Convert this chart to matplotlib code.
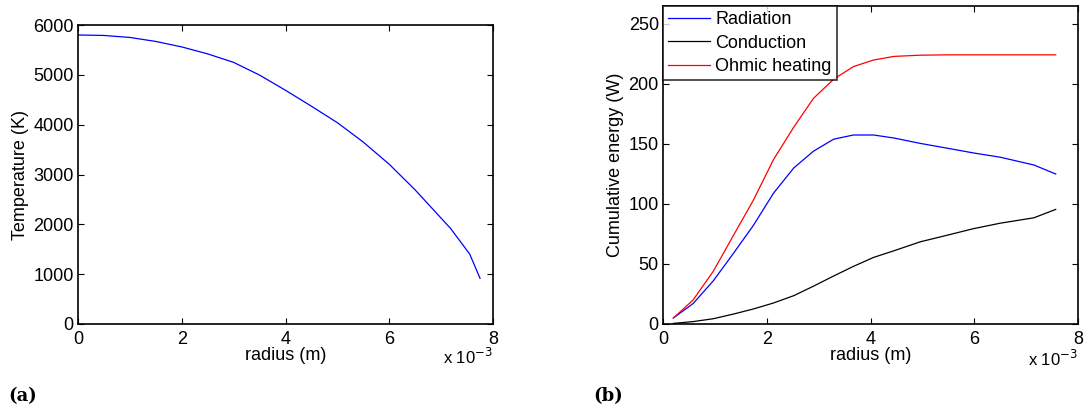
import matplotlib
matplotlib.use("Agg")
import matplotlib.pyplot as plt

# radius in units of 1e-3 m
r_temp = [0.0, 0.5, 1.0, 1.5, 2.0, 2.5, 3.0, 3.5, 4.0, 4.5, 5.0, 5.5,
          6.0, 6.5, 7.18, 7.55, 7.75]
temperature = [5800, 5790, 5750, 5670, 5560, 5420, 5250, 4995, 4690, 4370,
               4040, 3650, 3205, 2690, 1920, 1405, 917]

r_energy = [0.20, 0.58, 0.97, 1.36, 1.74, 2.13, 2.52, 2.90, 3.29, 3.67,
            4.06, 4.45, 4.96, 5.48, 5.99, 6.50, 7.15, 7.57]
radiation = [5, 17, 36, 59, 82, 109, 130, 144, 154, 157.5, 157.5, 155,
             150.5, 146.5, 142.5, 139, 132.5, 125]
conduction = [0.5, 2, 4.4, 8.3, 12.5, 17.5, 23.6, 31.5, 40, 48, 55.5, 61,
              68.5, 74, 79.5, 84, 88.5, 95.5]
ohmic = [5, 20, 44, 74, 103, 137, 164, 188, 204, 214.5, 220, 223, 224,
         224.3, 224.3, 224.3, 224.3, 224.3]

xticks = [0, 2, 4, 6, 8]

plt.rcParams["font.family"] = ["Liberation Sans", "DejaVu Sans"]
plt.rcParams["font.size"] = 13

W, H = 1085, 412
fig = plt.figure(figsize=(W / 100, H / 100), dpi=100)


def px_axes(x0, x1, y0, y1):
    return fig.add_axes([x0 / W, 1 - y1 / H, (x1 - x0) / W, (y1 - y0) / H])


def style(ax):
    ax.tick_params(direction="in", top=True, right=True, length=4,
                   width=0.8, labelsize=13)
    ax.tick_params(axis="x", pad=5)
    ax.tick_params(axis="y", pad=3)
    for s in ax.spines.values():
        s.set_linewidth(1.2)
    ax.set_xticks(xticks)
    ax.set_xlim(0, 8)


# ── (a) temperature ──────────────────────────────
ax1 = px_axes(78, 493, 25, 324)
ax1.plot(r_temp, temperature, color="#0000ff", linewidth=0.9)
ax1.set_ylim(0, 6000)
ax1.set_yticks(range(0, 6001, 1000))
ax1.set_xlabel("radius (m)", fontsize=13, labelpad=-1)
ax1.set_ylabel("Temperature (K)", fontsize=13, labelpad=3)
style(ax1)

# ── (b) cumulative energy ────────────────────────
ax2 = px_axes(663, 1078, 6, 324)
ax2.plot(r_energy, radiation, color="#0000ff", linewidth=0.9, label="Radiation")
ax2.plot(r_energy, conduction, color="black", linewidth=0.9, label="Conduction")
ax2.plot(r_energy, ohmic, color="#ff0000", linewidth=0.9, label="Ohmic heating")
ax2.set_ylim(0, 265)
ax2.set_yticks(range(0, 251, 50))
ax2.set_xlabel("radius (m)", fontsize=13, labelpad=-1)
ax2.set_ylabel("Cumulative energy (W)", fontsize=13, labelpad=3)
style(ax2)
leg = ax2.legend(loc="upper left", bbox_to_anchor=(0, 1), borderaxespad=0,
                 fontsize=13, frameon=True, fancybox=False, handlelength=2.3,
                 handletextpad=0.3, borderpad=0.3, labelspacing=0.35)
leg.get_frame().set_edgecolor("black")
leg.get_frame().set_linewidth(1.2)

# offset text and panel labels
for ax in (ax1, ax2):
    ax.text(1.0, -0.078, r"x 10$^{-3}$", transform=ax.transAxes,
            ha="right", va="top", fontsize=12)

fig.text(8 / W, 1 - 396 / H, "(a)", family="DejaVu Serif",
         fontweight="bold", fontsize=13, va="center")
fig.text(593 / W, 1 - 396 / H, "(b)", family="DejaVu Serif",
         fontweight="bold", fontsize=13, va="center")

plt.savefig("out.png", dpi=100)
plt.close()
